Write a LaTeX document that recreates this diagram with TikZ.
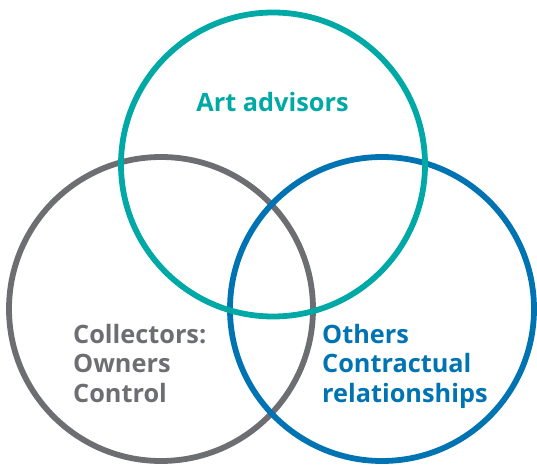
\documentclass[tikz,border=0pt]{standalone}
\usepackage{fontspec}
\setmainfont{Open Sans}
\usepackage{xcolor}
\definecolor{advisorcolor}{HTML}{00A9A5}
\definecolor{collectorcolor}{HTML}{6D6E71}
\definecolor{otherscolor}{HTML}{0073B3}
\usepackage{tikz}
\usetikzlibrary{positioning}
\tikzset{
    ring/.style={
        circle,
        draw=#1,
        line width=5.8pt,
        minimum size=304pt,
        inner sep=0pt,
    },
    tagtext/.style={
        text=#1,
        font=\fontsize{25.3}{29.5}\selectfont\bfseries,
        align=left,
        inner sep=0pt,
    },
}

\begin{document}
\begin{tikzpicture}[x=1pt,y=1pt]
        \useasboundingbox (0,0) rectangle (537,466);
        % circles, teal one on top
        \node[ring=collectorcolor] (collectors) at (161,157) {};
        \node[ring=otherscolor] (others) at (382,157) {};
        \node[ring=advisorcolor] (advisors) at (273,301.5) {};
        
        % base anchor sits on the last line
        \node[tagtext=advisorcolor, anchor=base] (advisorstext) at (272.5,354.5) {Art advisors};
        \node[tagtext=collectorcolor, anchor=base west] (collectorstext) at (73,64) {Collectors:\\Owners\\Control};
        \node[tagtext=otherscolor, anchor=base west] (otherstext) at (322,64) {Others\\Contractual\\relationships};
    \end{tikzpicture}
\end{document}
